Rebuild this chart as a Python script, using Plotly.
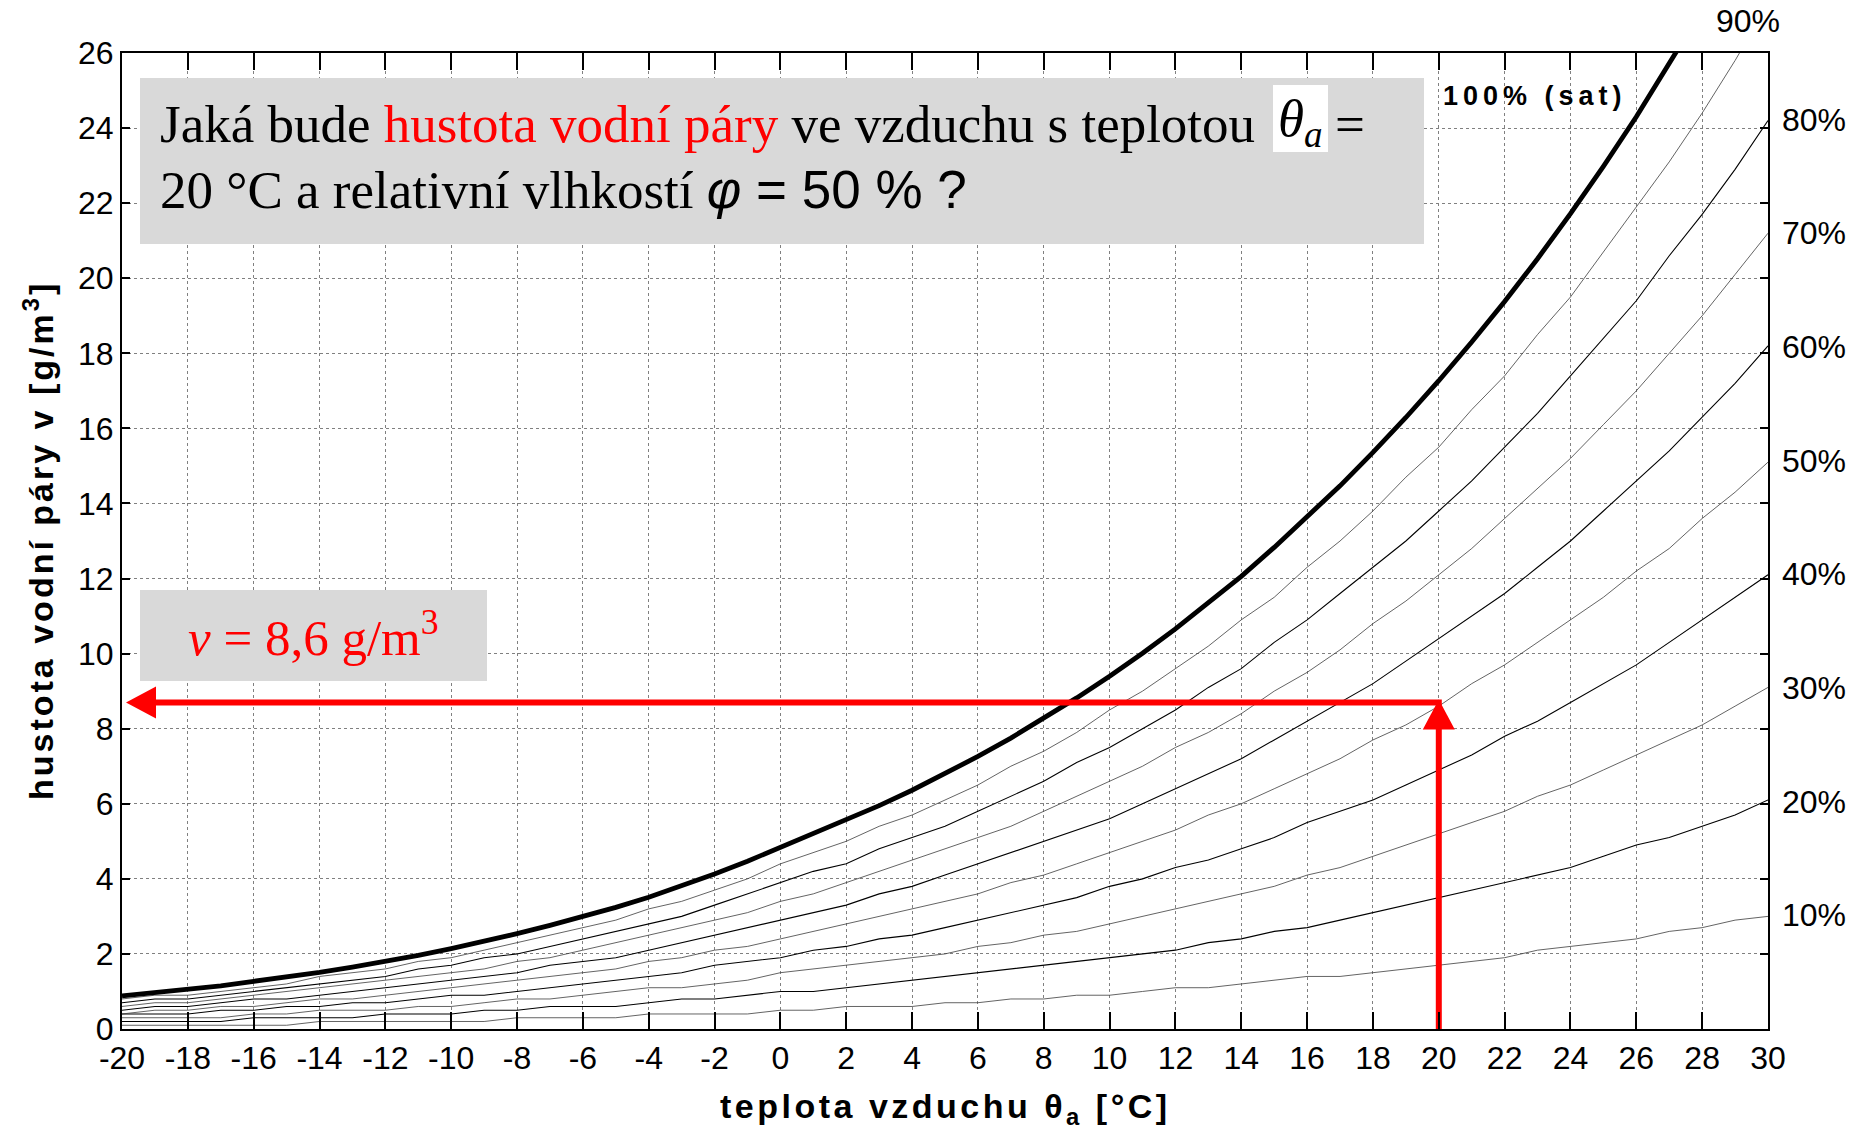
import plotly.graph_objects as go

# ---------------- data ----------------
temps = list(range(-20, 31))  # air temperature [°C]
sat_density = [0.88, 0.96, 1.05, 1.15, 1.27, 1.38, 1.51, 1.65, 1.80, 1.96,
               2.14, 2.33, 2.54, 2.76, 2.99, 3.24, 3.51, 3.81, 4.13, 4.47,
               4.84, 5.19, 5.56, 5.95, 6.36, 6.80, 7.26, 7.75, 8.27, 8.82,
               9.40, 10.01, 10.66, 11.34, 12.06, 12.83, 13.63, 14.47, 15.36, 16.29,
               17.27, 18.30, 19.38, 20.52, 21.72, 22.98, 24.30, 25.69, 27.15, 28.68,
               30.28]
rh_levels = [10, 20, 30, 40, 50, 60, 70, 80, 90]
rh_labels = ["10%", "20%", "30%", "40%", "50%", "60%", "70%", "80%", "90%"]
x_ticks = list(range(-20, 31, 2))
x_ticktext = [str(t) for t in x_ticks]   # plain hyphen minus as in the original
y_ticks = list(range(0, 27, 2))
y_ticktext = [str(t) for t in y_ticks]

query_temp = 20          # θa = 20 °C
query_rh = 50            # φ = 50 %
answer_level = 8.7       # level of the red read-off arrow
answer_text = "8,6"

# ---------------- geometry helpers (pixels of the plot area) ----------------
W, H = 1858, 1135
ML, MR, MT, MB = 122, 90, 53, 106
PW, PH = W - ML - MR, H - MT - MB
X0, X1, Y0, Y1 = -20, 30, 0, 26
pxx = PW / (X1 - X0)
pxy = PH / (Y1 - Y0)


def dx(px):
    return X0 + (px - ML) / pxx


def dy(py):
    return Y0 + (H - MB - py) / pxy


fig = go.Figure()

# relative humidity curves
for lvl in rh_levels:
    vals = [round(v * lvl / 100.0, 1) for v in sat_density]
    even = (lvl // 10) % 2 == 0
    fig.add_trace(go.Scatter(
        x=temps, y=vals, mode="lines",
        line=dict(color="#000000" if even else "#3c3c3c", width=1.1 if even else 0.8),
        hoverinfo="skip", showlegend=False))

# saturation curve
fig.add_trace(go.Scatter(x=temps, y=sat_density, mode="lines",
                         line=dict(color="black", width=4.8),
                         hoverinfo="skip", showlegend=False))

# red read-off arrows
red = "#ff0000"
head_h_len = 30 / pxx      # left arrowhead length (data x units)
head_h_half = 16 / pxy     # half-height (data y units)
head_v_len = 30 / pxy
head_v_half = 16 / pxx
tip_x = X0 + 4 / pxx
fig.add_trace(go.Scatter(x=[query_temp, query_temp], y=[Y0, answer_level - head_v_len + 0.1],
                         mode="lines", line=dict(color=red, width=6),
                         hoverinfo="skip", showlegend=False))
fig.add_trace(go.Scatter(x=[query_temp + 3 / pxx, tip_x + head_h_len - 0.05],
                         y=[answer_level, answer_level],
                         mode="lines", line=dict(color=red, width=6),
                         hoverinfo="skip", showlegend=False))
fig.add_trace(go.Scatter(
    x=[tip_x, tip_x + head_h_len, tip_x + head_h_len, tip_x],
    y=[answer_level, answer_level + head_h_half, answer_level - head_h_half, answer_level],
    mode="lines", fill="toself", fillcolor=red, line=dict(color=red, width=0),
    hoverinfo="skip", showlegend=False))
tip_y = answer_level + 3 / pxy
fig.add_trace(go.Scatter(
    x=[query_temp, query_temp - head_v_half, query_temp + head_v_half, query_temp],
    y=[tip_y, tip_y - head_v_len, tip_y - head_v_len, tip_y],
    mode="lines", fill="toself", fillcolor=red, line=dict(color=red, width=0),
    hoverinfo="skip", showlegend=False))

shapes = []
# question box
shapes.append(dict(type="rect", xref="x", yref="y", x0=dx(140), x1=dx(1424), y0=dy(244), y1=dy(78),
                   fillcolor="#d9d9d9", line=dict(width=0), layer="above"))
# white patch behind theta
shapes.append(dict(type="rect", xref="x", yref="y", x0=dx(1273), x1=dx(1328), y0=dy(152), y1=dy(85),
                   fillcolor="white", line=dict(width=0), layer="above"))
# answer box
shapes.append(dict(type="rect", xref="x", yref="y", x0=dx(140), x1=dx(487), y0=dy(681), y1=dy(590),
                   fillcolor="#d9d9d9", line=dict(width=0), layer="above"))

serif = "Liberation Serif"
sans = "Liberation Sans"
QS = 53
ann = []
ann.append(dict(x=dx(158), y=dy(124), xref="x", yref="y", xanchor="left", yanchor="middle",
                text="Jaká bude <span style='color:#ff0000'>hustota vodní páry</span> ve vzduchu s teplotou",
                showarrow=False, font=dict(family=serif, size=QS, color="black")))
ann.append(dict(x=dx(1300), y=dy(122), xref="x", yref="y", xanchor="center", yanchor="middle",
                text="<i>θ<sub>a</sub></i>",
                showarrow=False, font=dict(family=serif, size=QS, color="black")))
ann.append(dict(x=dx(1350), y=dy(124), xref="x", yref="y", xanchor="center", yanchor="middle",
                text="=", showarrow=False, font=dict(family=serif, size=QS, color="black")))
ann.append(dict(x=dx(158), y=dy(189), xref="x", yref="y", xanchor="left", yanchor="middle",
                text=f"{query_temp} °C a relativní vlhkostí <span style='font-family:{sans}'><i>φ</i> = {query_rh} % ?</span>",
                showarrow=False, font=dict(family=serif, size=QS, color="black")))
ann.append(dict(x=dx(313), y=dy(634), xref="x", yref="y", xanchor="center", yanchor="middle",
                text=f"<i>v</i> = {answer_text} g/m<sup>3</sup>",
                showarrow=False, font=dict(family=serif, size=51, color=red)))
ann.append(dict(x=dx(1535), y=dy(96), xref="x", yref="y", xanchor="center", yanchor="middle",
                text="<span style='letter-spacing:5px'><b>100% (sat)</b></span>",
                showarrow=False, font=dict(family=sans, size=27, color="black")))

# right-hand RH labels
for lvl, lab in zip(rh_levels, rh_labels):
    yv = sat_density[-1] * lvl / 100.0
    if yv <= Y1:
        ann.append(dict(x=X1, y=yv, xref="x", yref="y", xanchor="left", yanchor="middle",
                        xshift=12, text=lab, showarrow=False,
                        font=dict(family=sans, size=32, color="black")))
    else:
        ann.append(dict(x=dx(1748), y=1, xref="x", yref="paper", xanchor="center", yanchor="middle",
                        yshift=32, text=lab, showarrow=False,
                        font=dict(family=sans, size=32, color="black")))

# axis titles
ann.append(dict(x=0.5, y=-(1108 - (H - MB)) / PH, xref="paper", yref="paper",
                xanchor="center", yanchor="middle",
                text="<span style='letter-spacing:3.5px'><b>teplota vzduchu θ<sub>a</sub> [°C]</b></span>",
                showarrow=False, font=dict(family=sans, size=34, color="black")))
ann.append(dict(x=(38 - ML) / PW, y=0.5, xref="paper", yref="paper",
                xanchor="center", yanchor="middle", textangle=-90,
                text="<span style='letter-spacing:3px'><b>hustota vodní páry v [g/m<sup>3</sup>]</b></span>",
                showarrow=False, font=dict(family=sans, size=34, color="black")))

axis_common = dict(showline=True, linecolor="black", linewidth=2, mirror="ticks",
                   ticks="inside", tickcolor="black", tickwidth=2,
                   showgrid=True, gridcolor="#808080", gridwidth=1, griddash="dot",
                   zeroline=False, tickfont=dict(family=sans, size=32, color="black"))

fig.update_layout(
    width=W, height=H,
    margin=dict(l=ML, r=MR, t=MT, b=MB, pad=0),
    paper_bgcolor="white", plot_bgcolor="white",
    showlegend=False,
    shapes=shapes, annotations=ann,
    xaxis=dict(range=[X0, X1], tickvals=x_ticks, ticktext=x_ticktext, ticklen=17, **axis_common),
    yaxis=dict(range=[Y0, Y1], tickvals=y_ticks, ticktext=y_ticktext, ticklen=8, **axis_common),
)

fig.write_html("out.html", config={"displayModeBar": False},
               post_script="document.body.style.margin='0';document.body.style.overflow='hidden';")
